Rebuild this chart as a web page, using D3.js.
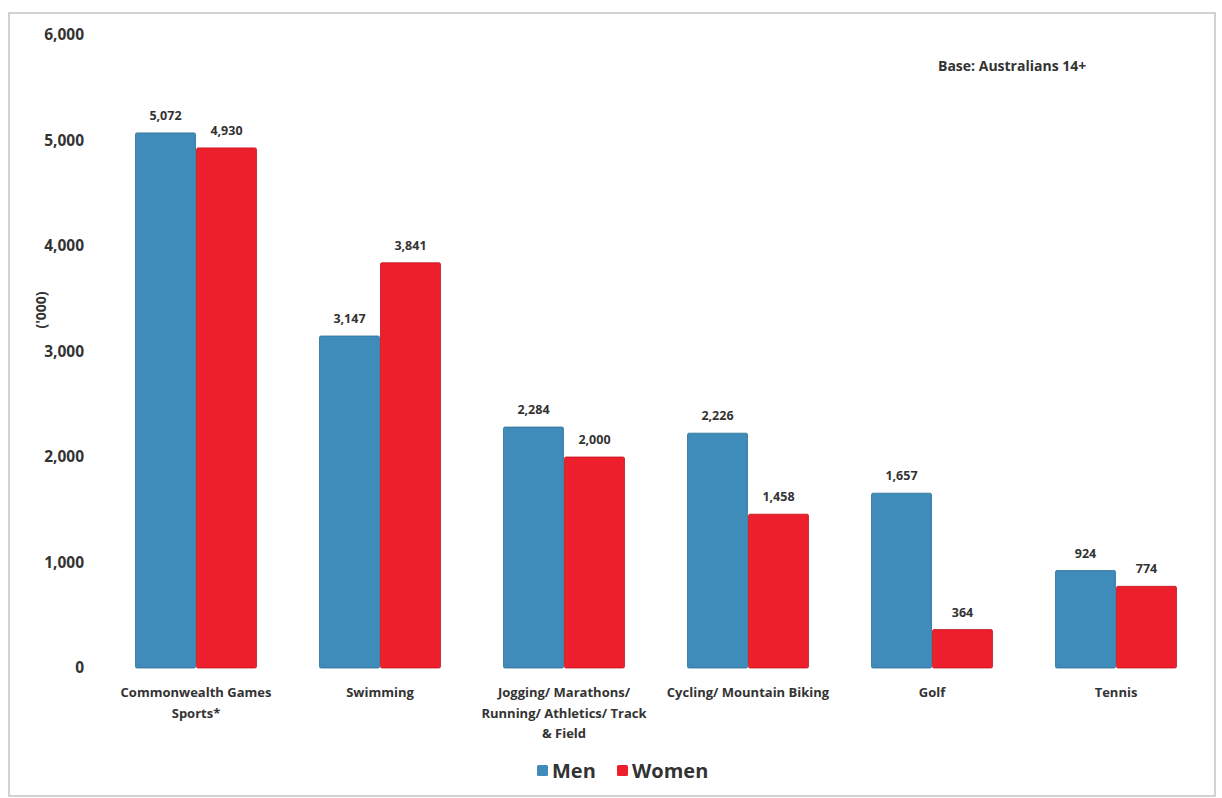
<!DOCTYPE html>
<html>

<head>
    <script src="https://d3js.org/d3.v7.min.js"></script>
    <style>
        body { margin: 0; background: #fff; }
        text { font-family: "Open Sans", Lato, sans-serif; font-weight: bold; fill: #333; }
    </style>
</head>

<body>
    <div id="chart"></div>

    <script>
        // Data
        const categories = [
            "Commonwealth Games\nSports*",
            "Swimming",
            "Jogging/ Marathons/\nRunning/ Athletics/ Track\n& Field",
            "Cycling/ Mountain Biking",
            "Golf",
            "Tennis"
        ];
        const series = ["Men", "Women"];
        const men = [5072, 3147, 2284, 2226, 1657, 924];
        const women = [4930, 3841, 2000, 1458, 364, 774];
        const yTicks = [0, 1000, 2000, 3000, 4000, 5000, 6000];

        const width = 1222, height = 798;
        const colors = { Men: "#3f8cba", Women: "#ee1f2d" };
        const strokes = { Men: "#2f6f95", Women: "#c0141f" };

        const svg = d3.select('#chart').append('svg')
            .attr('width', width)
            .attr('height', height);

        // frame
        svg.append('rect')
            .attr('x', 9).attr('y', 13)
            .attr('width', 1206).attr('height', 783)
            .attr('fill', 'none')
            .attr('stroke', '#c4c4c4')
            .attr('stroke-width', 1.5);

        const x0 = d3.scaleBand()
            .domain(categories)
            .range([104, 1208])
            .paddingInner(0.337)
            .paddingOuter(0.337 / 2);

        const x1 = d3.scaleBand()
            .domain(series)
            .range([0, x0.bandwidth()]);

        const y = d3.scaleLinear()
            .domain([0, 6000])
            .range([668, 35]);

        // y axis labels
        const yAxis = svg.append('g')
            .attr('transform', 'translate(84,0)')
            .call(d3.axisLeft(y).tickValues(yTicks).tickSize(0).tickPadding(0).tickFormat(d3.format(',')));
        yAxis.select('.domain').remove();
        yAxis.selectAll('text')
            .style('font-size', '15.5px')
            .style('font-family', '"Open Sans", sans-serif')
            .style('font-weight', 'bold')
            .attr('fill', '#2b2b2b');

        svg.append('text')
            .attr('transform', 'translate(46,310) rotate(-90)')
            .attr('text-anchor', 'middle')
            .style('font-size', '14px')
            .text("('000)");

        // bars
        const rows = categories.map((c, i) => ({ cat: c, vals: [{ key: "Men", v: men[i] }, { key: "Women", v: women[i] }] }));

        const group = svg.selectAll('.grp')
            .data(rows)
            .enter().append('g')
            .attr('class', 'grp')
            .attr('transform', d => `translate(${x0(d.cat)},0)`);

        group.selectAll('rect')
            .data(d => d.vals)
            .enter().append('rect')
            .attr('x', d => x1(d.key) + 0.5)
            .attr('y', d => y(d.v))
            .attr('width', x1.bandwidth() - 1)
            .attr('height', d => y(0) - y(d.v))
            .attr('rx', 1.5)
            .attr('fill', d => colors[d.key])
            .attr('stroke', d => strokes[d.key])
            .attr('stroke-width', 0.8);

        group.selectAll('.val')
            .data(d => d.vals)
            .enter().append('text')
            .attr('class', 'val')
            .attr('x', d => x1(d.key) + x1.bandwidth() / 2)
            .attr('y', d => y(d.v) - 13)
            .attr('text-anchor', 'middle')
            .style('font-size', '12.5px')
            .text(d => d3.format(',')(d.v));

        // category labels
        svg.selectAll('.cat')
            .data(categories)
            .enter().append('text')
            .attr('class', 'cat')
            .attr('x', d => x0(d) + x0.bandwidth() / 2)
            .attr('y', 697)
            .attr('text-anchor', 'middle')
            .style('font-size', '13px')
            .each(function (d) {
                const t = d3.select(this);
                d.split('\n').forEach((l, i) => {
                    t.append('tspan')
                        .attr('x', x0(d) + x0.bandwidth() / 2)
                        .attr('dy', i === 0 ? 0 : 20.5)
                        .text(l);
                });
            });

        // base note
        svg.append('text')
            .attr('x', 938)
            .attr('y', 71)
            .style('font-size', '14px')
            .text('Base: Australians 14+');

        // legend
        const legend = svg.append('g').attr('transform', 'translate(537,771)');
        const legendX = [0, 80];
        series.forEach((s, i) => {
            legend.append('rect')
                .attr('x', legendX[i])
                .attr('y', -6)
                .attr('width', 11)
                .attr('height', 11)
                .attr('rx', 1.5)
                .attr('fill', colors[s]);
            legend.append('text')
                .attr('x', legendX[i] + 15)
                .attr('y', 0)
                .attr('dy', '0.35em')
                .style('font-size', '20px')
                .attr('fill', '#222')
                .text(s);
        });
    </script>
</body>

</html>
